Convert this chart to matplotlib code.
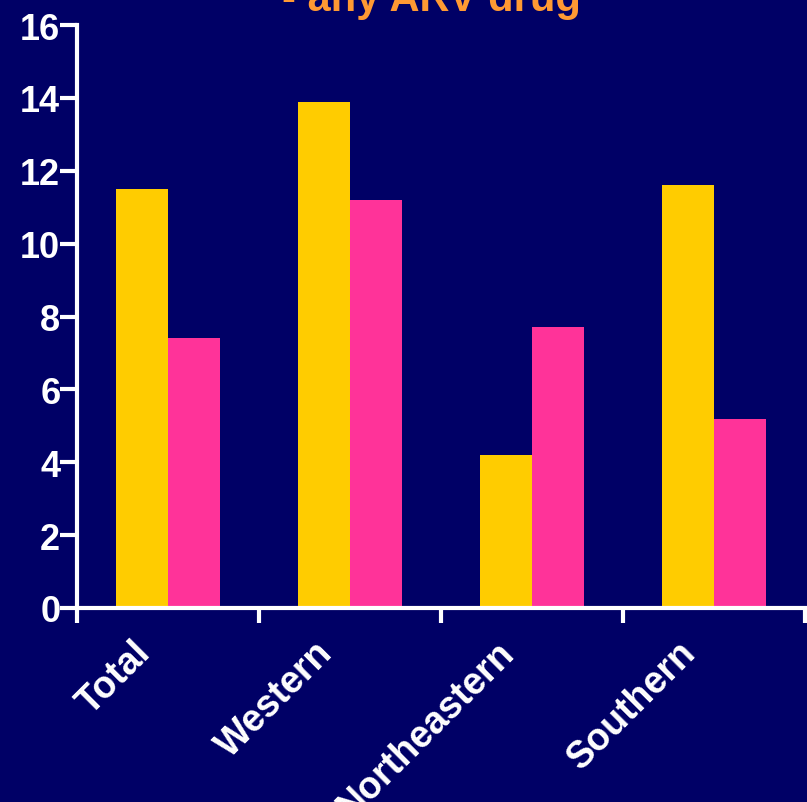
import numpy as np
import matplotlib.pyplot as plt
import matplotlib.transforms as mtransforms

# values
regions = ["Total", "Western", "Northeastern", "Southern"]
series_a = [11.5, 13.9, 4.2, 11.6]
series_b = [7.4, 11.2, 7.7, 5.2]
y_ticks = [0, 2, 4, 6, 8, 10, 12, 14, 16]

bg = "#000066"
yellow = "#FFCC00"
pink = "#FF3399"

plt.rcParams['font.family'] = ['Liberation Sans', 'DejaVu Sans']

fig = plt.figure(figsize=(8.07, 8.03), dpi=100, facecolor=bg)
ax = fig.add_axes([0.0954, 0.2416, 0.9021, 0.726])
ax.set_facecolor(bg)

centers = np.arange(len(regions)) + 0.5
w = 0.287
ax.bar(centers - w / 2, series_a, width=w, color=yellow)
ax.bar(centers + w / 2, series_b, width=w, color=pink)

ax.set_xlim(0, len(regions))
ax.set_ylim(0, 16)
ax.set_yticks(y_ticks)
ax.set_yticklabels([str(t) for t in y_ticks], fontsize=26, fontweight="bold", color="white")

# category boundaries as major ticks, names on minor ticks at group centres
ax.set_xticks(np.arange(len(regions) + 1))
ax.set_xticklabels([])
ax.set_xticks(centers, minor=True)
ax.set_xticklabels(regions, minor=True, rotation=45, ha="right", rotation_mode="anchor",
                   fontsize=27, fontweight="bold", color="white")
ax.tick_params(axis="x", which="minor", length=0, pad=20)
ax.tick_params(axis="x", which="major", length=11, width=3, color="white")
ax.tick_params(axis="y", length=12, width=3, color="white", pad=0)

# nudge the rotated names to the left, like the reference
shift = mtransforms.ScaledTranslation(-0.36, 0.02, fig.dpi_scale_trans)
for lab in ax.get_xticklabels(minor=True):
    lab.set_transform(lab.get_transform() + shift)

for s in ["top", "right"]:
    ax.spines[s].set_visible(False)
for s in ["left", "bottom"]:
    ax.spines[s].set_color("white")
    ax.spines[s].set_linewidth(3)

fig.text(0.535, 0.9865, "- any ARV drug", color="#FF9933", fontsize=30, fontweight="bold",
         ha="center", va="baseline")

fig.savefig("out.png", facecolor=bg)
